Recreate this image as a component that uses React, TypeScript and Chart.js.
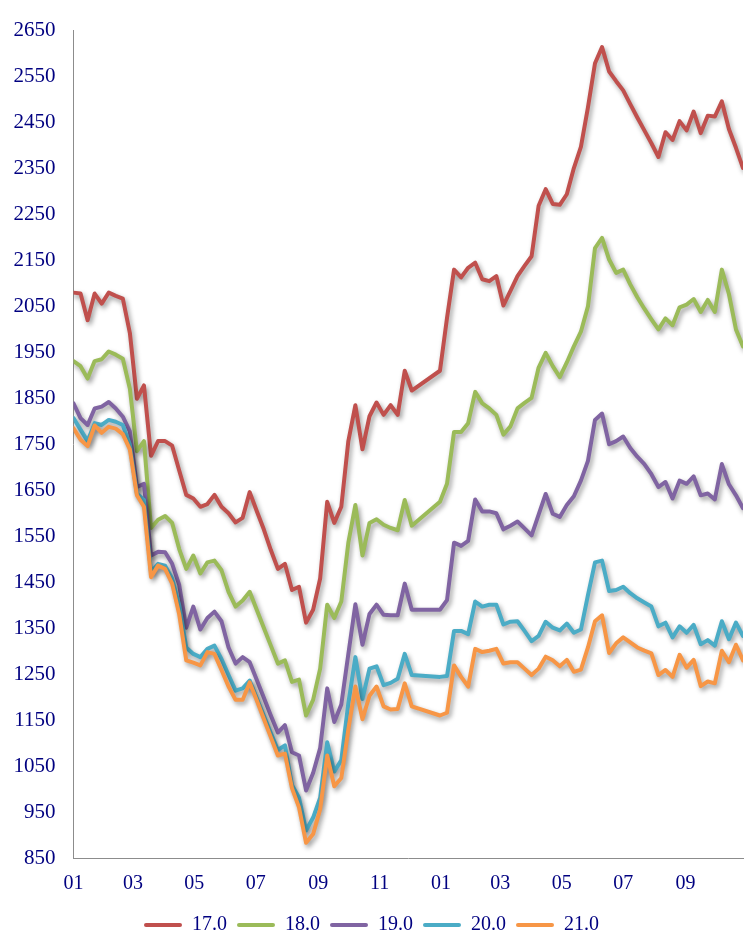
import React, { useEffect, useRef } from 'react';
import { Chart, registerables } from 'chart.js';

Chart.register(...registerables);

// ---- Data ----
const seriesNames = ['17.0', '18.0', '19.0', '20.0', '21.0'];
const seriesColors = ['#C0504D', '#9BBB59', '#8064A2', '#4BACC6', '#F79646'];

// month-start positions (days from first Jan) and their labels
const tickDays = [0, 59, 120, 181, 243, 304, 365, 424, 485, 546, 608];
const tickLabels = ['01', '03', '05', '07', '09', '11', '01', '03', '05', '07', '09'];

// weekly observation dates (days since first Jan)
const weekDays = Array.from({ length: 96 }, (_, i) => i * 7);

const s17 = [
  2080, 2078, 2020, 2078, 2056, 2080, 2073, 2067, 1992, 1849,
  1878, 1725, 1757, 1757, 1747, 1693, 1640, 1632, 1614, 1620,
  1640, 1614, 1600, 1580, 1590, 1646, 1605, 1565, 1520, 1479,
  1490, 1433, 1440, 1362, 1390, 1458, 1625, 1579, 1614, 1757,
  1835, 1739, 1811, 1841, 1814, 1835, 1814, 1910, 1867, null,
  null, null, 1910, 2025, 2130, 2113, 2134, 2145, 2109, 2105,
  2116, 2052, 2084, 2116, 2138, 2159, 2269, 2305, 2273, 2271,
  2294, 2351, 2397, 2483, 2579, 2614, 2561, 2540, 2520, 2490,
  2461, 2433, 2405, 2375, 2429, 2412, 2453, 2433, 2474, 2427,
  2465, 2463, 2496, 2436, 2395, 2351,
];
const s18 = [
  1931, 1920, 1893, 1931, 1935, 1952, 1945, 1936, 1871, 1735,
  1757, 1568, 1586, 1594, 1579, 1522, 1479, 1508, 1469, 1493,
  1497, 1476, 1429, 1397, 1410, 1429, 1390, 1351, 1312, 1273,
  1280, 1233, 1238, 1160, 1194, 1262, 1401, 1372, 1408, 1536,
  1618, 1508, 1579, 1587, 1575, 1568, 1563, 1629, 1573, null,
  null, null, 1625, 1664, 1777, 1777, 1796, 1864, 1839, 1828,
  1814, 1771, 1789, 1828, 1840, 1851, 1917, 1949, 1920, 1896,
  1928, 1963, 1995, 2050, 2177, 2199, 2152, 2123, 2130, 2098,
  2070, 2045, 2022, 2000, 2024, 2009, 2048, 2054, 2066, 2038,
  2064, 2038, 2130, 2077, 2000, 1963,
];
const s19 = [
  1839, 1807, 1792, 1828, 1832, 1842, 1828, 1810, 1778, 1657,
  1664, 1508, 1516, 1515, 1490, 1444, 1351, 1397, 1347, 1372,
  1386, 1365, 1308, 1273, 1287, 1276, 1238, 1199, 1160, 1123,
  1139, 1080, 1073, 997, 1035, 1089, 1219, 1146, 1184, 1294,
  1402, 1314, 1381, 1401, 1379, 1378, 1378, 1447, 1390, null,
  null, null, 1390, 1411, 1536, 1529, 1540, 1630, 1604, 1604,
  1600, 1565, 1573, 1582, 1567, 1552, 1597, 1642, 1599, 1592,
  1618, 1637, 1671, 1714, 1803, 1817, 1750, 1757, 1767, 1742,
  1723, 1707, 1685, 1657, 1668, 1632, 1671, 1664, 1680, 1639,
  1643, 1630, 1707, 1663, 1639, 1611,
];
const s20 = [
  1807, 1782, 1757, 1796, 1792, 1803, 1799, 1792, 1749, 1643,
  1629, 1472, 1490, 1486, 1458, 1400, 1308, 1294, 1287, 1305,
  1312, 1283, 1248, 1214, 1219, 1236, 1198, 1160, 1122, 1085,
  1095, 1009, 981, 910, 938, 981, 1102, 1038, 1063, 1187,
  1287, 1196, 1262, 1267, 1226, 1231, 1240, 1294, 1248, null,
  null, null, 1244, 1246, 1344, 1344, 1337, 1408, 1397, 1401,
  1401, 1358, 1364, 1365, 1344, 1322, 1333, 1364, 1351, 1345,
  1360, 1340, 1347, 1422, 1493, 1497, 1431, 1433, 1440, 1426,
  1415, 1406, 1397, 1354, 1362, 1330, 1354, 1340, 1357, 1315,
  1324, 1312, 1365, 1326, 1362, 1333,
];
const s21 = [
  1785, 1760, 1746, 1791, 1775, 1788, 1784, 1772, 1739, 1639,
  1614, 1461, 1486, 1479, 1447, 1380, 1280, 1275, 1269, 1298,
  1294, 1259, 1223, 1194, 1194, 1232, 1193, 1153, 1113, 1073,
  1077, 1002, 960, 883, 902, 956, 1073, 1006, 1024, 1130,
  1223, 1152, 1203, 1223, 1180, 1173, 1174, 1230, 1180, null,
  null, null, 1160, 1166, 1269, 1244, 1223, 1305, 1298, 1301,
  1305, 1273, 1276, 1276, 1262, 1248, 1262, 1288, 1280, 1267,
  1281, 1255, 1260, 1308, 1365, 1378, 1296, 1317, 1330, 1319,
  1308, 1301, 1295, 1248, 1259, 1244, 1292, 1264, 1281, 1224,
  1234, 1230, 1301, 1276, 1314, 1280,
];
const allSeries = [s17, s18, s19, s20, s21];

const FONT = '"Liberation Serif", "Times New Roman", serif';
const TEXT_COLOR = '#000080';
const AXIS_COLOR = '#8c8c8c';

const shadowPlugin = {
  id: 'lineShadow',
  beforeDatasetDraw(chart: any) {
    const ctx = chart.ctx;
    ctx.save();
    ctx.shadowColor = 'rgba(0,0,0,0.4)';
    ctx.shadowBlur = 5;
    ctx.shadowOffsetX = 2;
    ctx.shadowOffsetY = 3;
  },
  afterDatasetDraw(chart: any) {
    chart.ctx.restore();
  },
};

export default function App() {
  const canvasRef = useRef<HTMLCanvasElement | null>(null);

  useEffect(() => {
    if (!canvasRef.current) return;
    const datasets = allSeries.map((vals, k) => ({
      label: seriesNames[k],
      data: vals.map((v, i) => ({ x: weekDays[i], y: v })),
      borderColor: seriesColors[k],
      backgroundColor: seriesColors[k],
      borderWidth: 4,
      pointRadius: 0,
      tension: 0,
      spanGaps: true,
      borderJoinStyle: 'round' as const,
      borderCapStyle: 'round' as const,
      order: allSeries.length - k,
    }));

    const chart = new Chart(canvasRef.current, {
      type: 'line',
      data: { datasets },
      plugins: [shadowPlugin],
      options: {
        animation: false,
        responsive: false,
        maintainAspectRatio: false,
        layout: { padding: { left: 0, right: 3, top: 15, bottom: 5 } },
        plugins: {
          tooltip: { enabled: false },
          legend: {
            display: true,
            position: 'bottom',
            labels: {
              font: { family: FONT, size: 20 },
              color: TEXT_COLOR,
              boxWidth: 38,
              boxHeight: 4,
              padding: 10,
              useBorderRadius: true,
              borderRadius: 2,
              sort: (a: any, b: any) => a.datasetIndex - b.datasetIndex,
              generateLabels: (c: any) => {
                const items = (Chart as any).defaults.plugins.legend.labels.generateLabels(c);
                items.forEach((it: any) => {
                  it.lineWidth = 0;
                  it.fillStyle = seriesColors[it.datasetIndex];
                });
                return items;
              },
            },
          },
        },
        scales: {
          x: {
            type: 'linear',
            min: 0,
            max: weekDays[weekDays.length - 1],
            grid: { display: false, drawTicks: false },
            border: { display: true, color: AXIS_COLOR, width: 1 },
            afterBuildTicks: (scale: any) => {
              scale.ticks = tickDays.map((d) => ({ value: d }));
            },
            afterFit: (scale: any) => {
              scale.height = 47;
            },
            ticks: {
              autoSkip: false,
              maxRotation: 0,
              padding: 14,
              color: TEXT_COLOR,
              font: { family: FONT, size: 20 },
              callback: (_v: any, idx: number) => tickLabels[idx],
            },
          },
          y: {
            type: 'linear',
            min: 850,
            max: 2650,
            grid: { display: false, drawTicks: false },
            border: { display: true, color: AXIS_COLOR, width: 1 },
            afterFit: (scale: any) => {
              scale.width = 73.5;
            },
            ticks: {
              stepSize: 100,
              padding: 18,
              color: TEXT_COLOR,
              font: { family: FONT, size: 21 },
              callback: (v: any) => String(v),
            },
          },
        },
      },
    } as any);

    return () => chart.destroy();
  }, []);

  return (
    <div style={{ position: 'fixed', left: 0, top: 0, width: 746, height: 950, background: '#fff' }}>
      <canvas ref={canvasRef} width={746} height={950} style={{ display: 'block' }} />
    </div>
  );
}
